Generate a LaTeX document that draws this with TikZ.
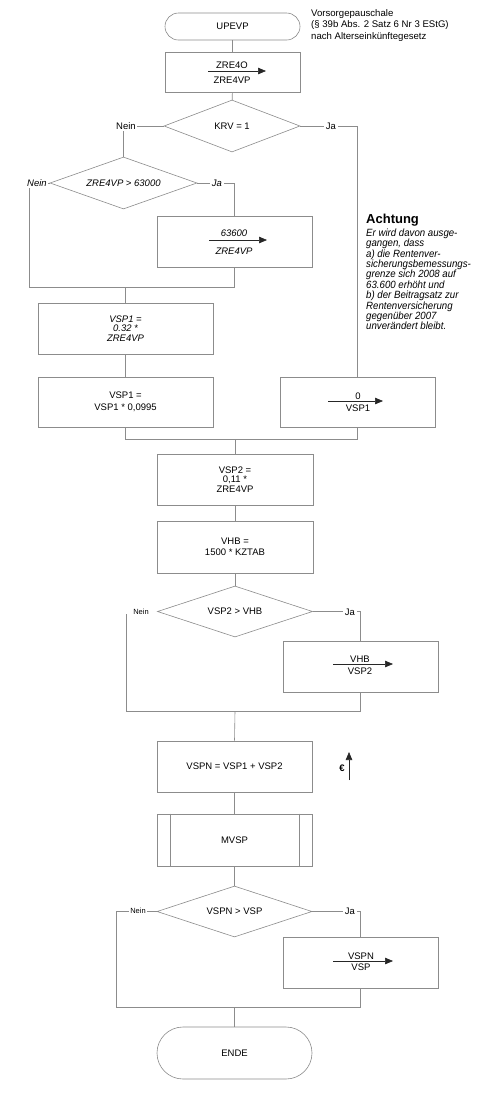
\documentclass[tikz,border=0pt]{standalone}
\usepackage{fontspec}
\setmainfont{Liberation Sans}
\newfontfamily\condit{Liberation Sans}[FakeStretch=0.92]
\usetikzlibrary{arrows.meta,shapes.geometric,calc}
\begin{document}
\begin{tikzpicture}[x=1pt,y=-1pt,
  line/.style={draw=black!45, line width=0.6pt},
  txt/.style={font=\fontsize{9.5}{11}\selectfont, inner sep=0pt},
  itxt/.style={font=\fontsize{9.5}{11}\selectfont\itshape, inner sep=0pt},
  box/.style={line, rectangle, minimum width=155pt, minimum height=51pt, inner sep=0pt, align=center, font=\fontsize{9.5}{11}\selectfont},
  term/.style={box, rounded corners=13.5pt, minimum height=27pt},
  dec/.style={line, diamond, aspect=3, inner sep=0pt, minimum width=155pt, minimum height=51pt, font=\fontsize{9.5}{11}\selectfont},
  lbl/.style={font=\fontsize{9.5}{11}\selectfont, inner sep=1.5pt, fill=white},
  slbl/.style={font=\fontsize{7.5}{9}\selectfont, inner sep=1.5pt, fill=white},
  assign/.style={draw=black!85, line width=0.6pt, -{Triangle[length=8pt,width=6.5pt]}},
  conn/.style={line}
]
\useasboundingbox[fill=white] (0,0) rectangle (500,1101);

% ---------- nodes ----------
\node[term, minimum width=135pt] (start) at (232.5,26.5) {UPEVP};
\node[anchor=north west, align=left, inner sep=0pt, font=\fontsize{9.6}{11.5}\selectfont] (desc) at (311,9)
  {Vorsorgepauschale\\(§ 39b Abs. 2 Satz 6 Nr 3 EStG)\\nach Alterseinkünftegesetz};

\node[box, minimum width=135pt, minimum height=40pt] (zre4o) at (232.5,72) {};
\node[txt] (zre4oa) at (232,65) {ZRE4O};
\node[txt] (zre4ob) at (232,80) {ZRE4VP};
\coordinate (a1s) at (208,71); \coordinate (a1e) at (266,71);

\node[dec, minimum width=136pt, minimum height=52pt] (krv) at (232,126) {KRV = 1};
\node[dec, minimum width=147pt, minimum height=52pt, font=\fontsize{9.5}{11}\selectfont\itshape] (zre) at (123.5,183) {ZRE4VP > 63000};

\node[box] (b63600) at (234.5,241.5) {};
\node[itxt] (b63600a) at (234,233) {63600};
\node[itxt] (b63600b) at (234,251) {ZRE4VP};
\coordinate (a2s) at (209,240); \coordinate (a2e) at (267,240);

\coordinate (m1l) at (29,287);
\coordinate (m1c) at (125.5,287);

\node[box, minimum width=175pt, font=\fontsize{9.5}{9.5}\selectfont\itshape] (vsp1a) at (125.5,328.5) {VSP1 =\\0.32 *\\ZRE4VP};
\node[box, minimum width=175pt, minimum height=50pt, font=\fontsize{9.5}{12.5}\selectfont] (vsp1b) at (125.5,402) {VSP1 =\\VSP1 * 0,0995};
\node[box, minimum height=50pt] (zero) at (357.5,402) {};
\node[txt] (zeroa) at (358,396.5) {0};
\node[txt] (zerob) at (358,408) {VSP1};
\coordinate (a3s) at (328,401); \coordinate (a3e) at (383,401);

\coordinate (m2r) at (357.5,439);
\coordinate (m2c) at (235,439);

\node[box, minimum width=156pt, font=\fontsize{9.5}{9.5}\selectfont] (vsp2) at (235,479.5) {VSP2 =\\0,11 *\\ZRE4VP};
\node[box, minimum width=156pt, minimum height=52pt, font=\fontsize{9.5}{11.5}\selectfont] (vhb) at (235,547) {VHB =\\1500 * KZTAB};

\node[dec] (d3) at (235,611.5) {VSP2 > VHB};
\coordinate (n3) at (126,614);
\coordinate (m3l) at (126,711);
\coordinate (m3c) at (235,711);

\node[box] (vhbbox) at (360.5,666.5) {};
\node[txt] (vhba) at (360,659) {VHB};
\node[txt] (vhbb) at (360,671) {VSP2};
\coordinate (a4s) at (333,664); \coordinate (a4e) at (393,664);

\node[box] (vspn) at (234.5,766.5) {VSPN = VSP1 + VSP2};
\coordinate (eu1) at (349,780); \coordinate (eu2) at (349,752);
\node[font=\fontsize{9.5}{10}\selectfont\bfseries, inner sep=0pt] (euro) at (342,768) {€};

\node[box, minimum height=52pt] (mvsp) at (234.5,840) {MVSP};

\node[dec] (d4) at (234.5,911.5) {VSPN > VSP};
\coordinate (m4l) at (116,1007);
\coordinate (m4c) at (234.5,1007);

\node[box] (vspbox) at (360.5,962.5) {};
\node[txt] (vspa) at (361,956) {VSPN};
\node[txt] (vspb) at (361,967) {VSP};
\coordinate (a5s) at (333,961); \coordinate (a5e) at (393,961);

\node[term, minimum height=52pt, rounded corners=26pt] (ende) at (234.5,1053) {ENDE};

\node[anchor=base west, inner sep=0pt, font=\fontsize{13}{14}\selectfont\bfseries] (acht) at (366,223) {Achtung};
\node[anchor=north west, align=left, inner sep=0pt, font=\fontsize{10.5}{10.4}\selectfont\condit\itshape] (achttxt) at (366,228.5)
  {Er wird davon ausge-\\gangen, dass\\a) die Rentenver-\\sicherungsbemessungs-\\grenze sich 2008 auf\\63.600 erhöht und\\b) der Beitragsatz zur\\Rentenversicherung\\gegenüber 2007\\unverändert bleibt.};

% ---------- connectors ----------
\draw[conn] (start) -- (zre4o);
\draw[conn] (zre4o) -- (krv);
\draw[conn] (krv.west) -| (zre.north);
\draw[conn] (krv.east) -| (zero.north);
\draw[conn] (zre.west) -| (m1l);
\draw[conn] (zre.east) -| (b63600.north);
\draw[conn] (b63600.south) |- (m1l);
\draw[conn] (m1c) -- (vsp1a.north);
\draw[conn] (vsp1a) -- (vsp1b);
\draw[conn] (vsp1b.south) |- (m2r);
\draw[conn] (zero.south) -- (m2r);
\draw[conn] (m2c) -- (vsp2.north);
\draw[conn] (vsp2) -- (vhb);
\draw[conn] (vhb) -- (d3);
\draw[conn] (d3.east) -| (vhbbox.north);
\draw[conn] (n3) -- (m3l);
\draw[conn] (vhbbox.south) |- (m3l);
\draw[conn] (m3c) -- (vspn.north);
\draw[conn] (vspn) -- (mvsp);
\draw[conn] ([xshift=14pt]mvsp.north west) -- ([xshift=14pt]mvsp.south west);
\draw[conn] ([xshift=-13pt]mvsp.north east) -- ([xshift=-13pt]mvsp.south east);
\draw[conn] (mvsp) -- (d4);
\draw[conn] (d4.west) -| (m4l);
\draw[conn] (d4.east) -| (vspbox.north);
\draw[conn] (vspbox.south) |- (m4l);
\draw[conn] (m4c) -- (ende.north);

\draw[assign] (a1s) -- (a1e);
\draw[assign] (a2s) -- (a2e);
\draw[assign] (a3s) -- (a3e);
\draw[assign] (a4s) -- (a4e);
\draw[assign] (a5s) -- (a5e);
\draw[assign] (eu1) -- (eu2);

% ---------- branch labels ----------
\node[lbl] (nein1) at (126,126) {Nein};
\node[lbl] (ja1) at (331,126) {Ja};
\node[lbl, font=\fontsize{9.5}{11}\selectfont\itshape] (nein2) at (37,183) {Nein};
\node[lbl, font=\fontsize{9.5}{11}\selectfont\itshape] (ja2) at (217,183) {Ja};
\node[slbl] (nein3) at (141,612) {Nein};
\node[lbl] (ja3) at (350,612) {Ja};
\node[slbl] (nein4) at (138,911) {Nein};
\node[lbl] (ja4) at (350,911) {Ja};
\end{tikzpicture}
\end{document}
